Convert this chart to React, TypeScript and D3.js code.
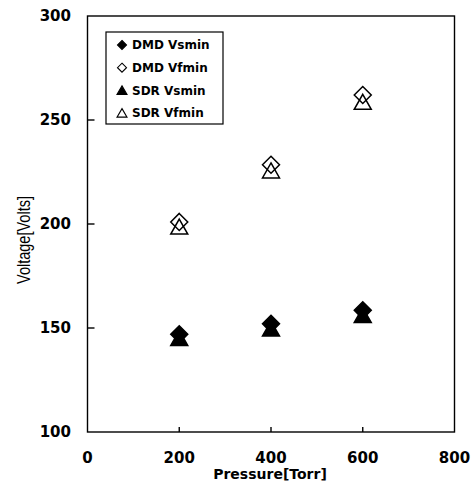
import React from "react";
import * as d3 from "d3";

const pressures = [200, 400, 600];
const dmdVsmin = [147, 152, 158.5];
const dmdVfmin = [201, 228.5, 262];
const sdrVsmin = [145, 149.5, 156];
const sdrVfmin = [198.5, 225.5, 258.5];
const xTicks = [0, 200, 400, 600, 800];
const yTicks = [100, 150, 200, 250, 300];
const legendLabels = ["DMD Vsmin", "DMD Vfmin", "SDR Vsmin", "SDR Vfmin"];

const W = 472;
const H = 487;
const plot = { left: 87.5, right: 454.5, top: 16, bottom: 432 };

const diamond = "M0,-8.5L8.5,0L0,8.5L-8.5,0Z";
const triangle = "M0,-8L8.5,7L-8.5,7Z";
const smallDiamond = "M0,-4.5L4.5,0L0,4.5L-4.5,0Z";
const smallTriangle = "M0,-4.5L5,4L-5,4Z";

const bold = "'DejaVu Sans', Verdana, sans-serif";

export default function App() {
  const x = d3.scaleLinear().domain([0, 800]).range([plot.left, plot.right]);
  const y = d3.scaleLinear().domain([100, 300]).range([plot.bottom, plot.top]);

  // open markers first, filled ones on top
  const series = [
    { values: sdrVfmin, path: triangle, fill: "none" },
    { values: dmdVfmin, path: diamond, fill: "none" },
    { values: sdrVsmin, path: triangle, fill: "#000" },
    { values: dmdVsmin, path: diamond, fill: "#000" },
  ];
  const legendShapes = [
    { path: smallDiamond, fill: "#000" },
    { path: smallDiamond, fill: "none" },
    { path: smallTriangle, fill: "#000" },
    { path: smallTriangle, fill: "none" },
  ];

  return (
    <svg width={W} height={H} style={{ position: "absolute", left: 0, top: 0, background: "#fff" }}>
      <rect x={0} y={0} width={W} height={H} fill="#fff" />
      <rect
        x={plot.left}
        y={plot.top}
        width={plot.right - plot.left}
        height={plot.bottom - plot.top}
        fill="none"
        stroke="#000"
        strokeWidth={1.4}
      />
      {yTicks.map((t) => (
        <g key={"y" + t}>
          {t > 100 && t < 300 && (
            <line x1={plot.left} x2={plot.left + 7} y1={y(t)} y2={y(t)} stroke="#000" strokeWidth={1.4} />
          )}
          <text
            x={71}
            y={y(t)}
            dy="0.36em"
            textAnchor="end"
            fontFamily={bold}
            fontWeight="bold"
            fontSize={15}
            fill="#000"
          >
            {t}
          </text>
        </g>
      ))}
      {xTicks.map((t) => (
        <g key={"x" + t}>
          {t > 0 && t < 800 && (
            <line x1={x(t)} x2={x(t)} y1={plot.bottom} y2={plot.bottom - 5} stroke="#000" strokeWidth={1.4} />
          )}
          <text
            x={x(t)}
            y={463}
            textAnchor="middle"
            fontFamily={bold}
            fontWeight="bold"
            fontSize={15}
            fill="#000"
          >
            {t}
          </text>
        </g>
      ))}
      <text x={270} y={479} textAnchor="middle" fontFamily={bold} fontWeight="bold" fontSize={14} fill="#000">
        Pressure[Torr]
      </text>
      <text
        transform={`translate(30,${240}) rotate(-90)`}
        textAnchor="middle"
        fontFamily="'Liberation Sans', Arial, sans-serif"
        fontSize={18}
        textLength={88}
        lengthAdjust="spacingAndGlyphs"
        fill="#000"
      >
        Voltage[Volts]
      </text>
      {series.map((s, si) =>
        s.values.map((v, i) => (
          <path
            key={si + "-" + i}
            d={s.path}
            transform={`translate(${x(pressures[i])},${y(v)})`}
            fill={s.fill}
            stroke="#000"
            strokeWidth={1.5}
          />
        ))
      )}
      <rect x={106} y={32} width={117} height={92} fill="#fff" stroke="#000" strokeWidth={1.2} />
      {legendLabels.map((l, i) => (
        <g key={l} transform={`translate(0,${45 + i * 22.7})`}>
          <path
            d={legendShapes[i].path}
            transform="translate(122,0)"
            fill={legendShapes[i].fill}
            stroke="#000"
            strokeWidth={1.1}
          />
          <text x={132} y={0} dy="0.36em" fontFamily={bold} fontWeight="bold" fontSize={12} fill="#000">
            {l}
          </text>
        </g>
      ))}
    </svg>
  );
}
